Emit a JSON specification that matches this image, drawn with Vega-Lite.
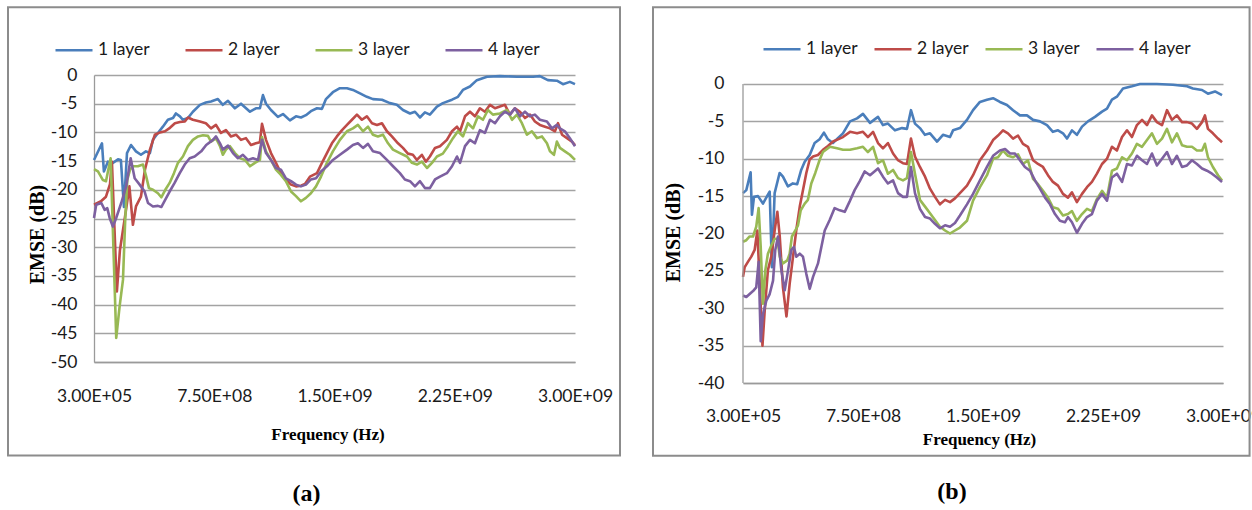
{
"$schema": "https://vega.github.io/schema/vega-lite/v6.json",
"padding": {"left": 7, "top": 6, "right": 0, "bottom": 0},
"background": "white",
"config": {
  "font": "Lato",
  "view": {"stroke": null},
  "axis": {"labelFont": "Lato", "labelFontSize": 17.5, "labelColor": "#1a1a1a", "titleFont": "Liberation Serif", "titleFontWeight": "bold", "titleFontSize": 17, "titleColor": "#000000", "ticks": false, "domainColor": "#9a9a9a", "gridColor": "#a3a3a3", "gridWidth": 1.3, "domainWidth": 1.3, "labelOverlap": false},
  "legend": {"labelFont": "Lato", "labelFontSize": 17.5, "labelColor": "#1a1a1a", "symbolType": "stroke", "symbolStrokeWidth": 3, "symbolSize": 1369, "labelOffset": 4, "padding": 0},
  "line": {"strokeWidth": 2.6, "strokeJoin": "round"},
  "title": {"font": "Liberation Serif", "fontSize": 24, "fontWeight": "bold", "color": "#000000"}
},
"spacing": 31,
"bounds": "full",
"align": "none",
"resolve": {"scale": {"x": "independent", "y": "independent", "color": "independent"}, "legend": {"color": "independent"}},
"datasets": {
"a": [
{"layer":"1 layer","MHz":0.3,"dB":-14.8},{"layer":"1 layer","MHz":50,"dB":-11.9},{"layer":"1 layer","MHz":62,"dB":-16.8},{"layer":"1 layer","MHz":87,"dB":-15.1},{"layer":"1 layer","MHz":118,"dB":-15.3},{"layer":"1 layer","MHz":150,"dB":-14.7},{"layer":"1 layer","MHz":168,"dB":-14.8},{"layer":"1 layer","MHz":187,"dB":-23},{"layer":"1 layer","MHz":206,"dB":-13.6},{"layer":"1 layer","MHz":231,"dB":-12.2},{"layer":"1 layer","MHz":262,"dB":-13.3},{"layer":"1 layer","MHz":293,"dB":-13.9},{"layer":"1 layer","MHz":324,"dB":-13.3},{"layer":"1 layer","MHz":349,"dB":-13.6},{"layer":"1 layer","MHz":368,"dB":-11.3},{"layer":"1 layer","MHz":399,"dB":-10.1},{"layer":"1 layer","MHz":430,"dB":-9},{"layer":"1 layer","MHz":461,"dB":-7.8},{"layer":"1 layer","MHz":493,"dB":-7.5},{"layer":"1 layer","MHz":511,"dB":-6.7},{"layer":"1 layer","MHz":536,"dB":-7.2},{"layer":"1 layer","MHz":555,"dB":-7.8},{"layer":"1 layer","MHz":586,"dB":-7.5},{"layer":"1 layer","MHz":617,"dB":-6.4},{"layer":"1 layer","MHz":661,"dB":-5.2},{"layer":"1 layer","MHz":698,"dB":-4.8},{"layer":"1 layer","MHz":730,"dB":-4.6},{"layer":"1 layer","MHz":773,"dB":-4.2},{"layer":"1 layer","MHz":804,"dB":-5.2},{"layer":"1 layer","MHz":836,"dB":-4.5},{"layer":"1 layer","MHz":879,"dB":-5.8},{"layer":"1 layer","MHz":917,"dB":-5},{"layer":"1 layer","MHz":973,"dB":-6.4},{"layer":"1 layer","MHz":1010,"dB":-5.8},{"layer":"1 layer","MHz":1035,"dB":-5.8},{"layer":"1 layer","MHz":1054,"dB":-3.5},{"layer":"1 layer","MHz":1073,"dB":-5},{"layer":"1 layer","MHz":1104,"dB":-6.1},{"layer":"1 layer","MHz":1147,"dB":-7.3},{"layer":"1 layer","MHz":1179,"dB":-6.8},{"layer":"1 layer","MHz":1222,"dB":-7.9},{"layer":"1 layer","MHz":1260,"dB":-7.2},{"layer":"1 layer","MHz":1291,"dB":-7.4},{"layer":"1 layer","MHz":1322,"dB":-7},{"layer":"1 layer","MHz":1353,"dB":-6.3},{"layer":"1 layer","MHz":1391,"dB":-5.8},{"layer":"1 layer","MHz":1422,"dB":-5.9},{"layer":"1 layer","MHz":1447,"dB":-4.2},{"layer":"1 layer","MHz":1490,"dB":-3},{"layer":"1 layer","MHz":1534,"dB":-2.3},{"layer":"1 layer","MHz":1578,"dB":-2.3},{"layer":"1 layer","MHz":1615,"dB":-2.6},{"layer":"1 layer","MHz":1659,"dB":-3.2},{"layer":"1 layer","MHz":1702,"dB":-3.8},{"layer":"1 layer","MHz":1740,"dB":-4.2},{"layer":"1 layer","MHz":1796,"dB":-4.3},{"layer":"1 layer","MHz":1846,"dB":-4.9},{"layer":"1 layer","MHz":1889,"dB":-5.2},{"layer":"1 layer","MHz":1927,"dB":-6.1},{"layer":"1 layer","MHz":1971,"dB":-6.7},{"layer":"1 layer","MHz":2002,"dB":-6.4},{"layer":"1 layer","MHz":2033,"dB":-7.4},{"layer":"1 layer","MHz":2064,"dB":-6.5},{"layer":"1 layer","MHz":2095,"dB":-6.9},{"layer":"1 layer","MHz":2139,"dB":-5.5},{"layer":"1 layer","MHz":2176,"dB":-4.9},{"layer":"1 layer","MHz":2233,"dB":-4.3},{"layer":"1 layer","MHz":2270,"dB":-3.8},{"layer":"1 layer","MHz":2301,"dB":-2.6},{"layer":"1 layer","MHz":2345,"dB":-2},{"layer":"1 layer","MHz":2388,"dB":-0.9},{"layer":"1 layer","MHz":2451,"dB":-0.3},{"layer":"1 layer","MHz":2532,"dB":-0.2},{"layer":"1 layer","MHz":2638,"dB":-0.3},{"layer":"1 layer","MHz":2738,"dB":-0.3},{"layer":"1 layer","MHz":2781,"dB":-0.2},{"layer":"1 layer","MHz":2831,"dB":-0.9},{"layer":"1 layer","MHz":2887,"dB":-1},{"layer":"1 layer","MHz":2925,"dB":-1.6},{"layer":"1 layer","MHz":2968,"dB":-1.2},{"layer":"1 layer","MHz":3000,"dB":-1.6},
{"layer":"2 layer","MHz":0.3,"dB":-22.6},{"layer":"2 layer","MHz":44,"dB":-22},{"layer":"2 layer","MHz":75,"dB":-21.2},{"layer":"2 layer","MHz":100,"dB":-19},{"layer":"2 layer","MHz":112,"dB":-15.1},{"layer":"2 layer","MHz":143,"dB":-37.7},{"layer":"2 layer","MHz":162,"dB":-30.5},{"layer":"2 layer","MHz":181,"dB":-27},{"layer":"2 layer","MHz":200,"dB":-23.5},{"layer":"2 layer","MHz":221,"dB":-19.4},{"layer":"2 layer","MHz":243,"dB":-26.1},{"layer":"2 layer","MHz":262,"dB":-22.9},{"layer":"2 layer","MHz":293,"dB":-21.2},{"layer":"2 layer","MHz":318,"dB":-16.5},{"layer":"2 layer","MHz":349,"dB":-13},{"layer":"2 layer","MHz":380,"dB":-10.4},{"layer":"2 layer","MHz":412,"dB":-10},{"layer":"2 layer","MHz":443,"dB":-9.8},{"layer":"2 layer","MHz":474,"dB":-9.2},{"layer":"2 layer","MHz":505,"dB":-8.4},{"layer":"2 layer","MHz":536,"dB":-8.2},{"layer":"2 layer","MHz":567,"dB":-8.1},{"layer":"2 layer","MHz":586,"dB":-7.4},{"layer":"2 layer","MHz":617,"dB":-7.8},{"layer":"2 layer","MHz":661,"dB":-8.1},{"layer":"2 layer","MHz":698,"dB":-8.4},{"layer":"2 layer","MHz":730,"dB":-9.3},{"layer":"2 layer","MHz":761,"dB":-8.7},{"layer":"2 layer","MHz":792,"dB":-10.1},{"layer":"2 layer","MHz":823,"dB":-9.6},{"layer":"2 layer","MHz":854,"dB":-10.7},{"layer":"2 layer","MHz":886,"dB":-10.4},{"layer":"2 layer","MHz":917,"dB":-11.3},{"layer":"2 layer","MHz":948,"dB":-11},{"layer":"2 layer","MHz":979,"dB":-12.2},{"layer":"2 layer","MHz":1010,"dB":-11.9},{"layer":"2 layer","MHz":1035,"dB":-11.7},{"layer":"2 layer","MHz":1048,"dB":-8.5},{"layer":"2 layer","MHz":1073,"dB":-11.3},{"layer":"2 layer","MHz":1104,"dB":-13.6},{"layer":"2 layer","MHz":1135,"dB":-15.3},{"layer":"2 layer","MHz":1166,"dB":-17.1},{"layer":"2 layer","MHz":1197,"dB":-18.2},{"layer":"2 layer","MHz":1229,"dB":-19.1},{"layer":"2 layer","MHz":1260,"dB":-19.4},{"layer":"2 layer","MHz":1291,"dB":-19.3},{"layer":"2 layer","MHz":1316,"dB":-19},{"layer":"2 layer","MHz":1347,"dB":-17.7},{"layer":"2 layer","MHz":1391,"dB":-17.1},{"layer":"2 layer","MHz":1422,"dB":-15.3},{"layer":"2 layer","MHz":1453,"dB":-13.6},{"layer":"2 layer","MHz":1484,"dB":-11.9},{"layer":"2 layer","MHz":1515,"dB":-10.7},{"layer":"2 layer","MHz":1547,"dB":-9.6},{"layer":"2 layer","MHz":1578,"dB":-8.7},{"layer":"2 layer","MHz":1609,"dB":-7.8},{"layer":"2 layer","MHz":1640,"dB":-6.9},{"layer":"2 layer","MHz":1671,"dB":-7.8},{"layer":"2 layer","MHz":1702,"dB":-7.2},{"layer":"2 layer","MHz":1734,"dB":-8.4},{"layer":"2 layer","MHz":1765,"dB":-8.7},{"layer":"2 layer","MHz":1796,"dB":-8.4},{"layer":"2 layer","MHz":1827,"dB":-9.8},{"layer":"2 layer","MHz":1858,"dB":-10.7},{"layer":"2 layer","MHz":1896,"dB":-11.9},{"layer":"2 layer","MHz":1927,"dB":-12.7},{"layer":"2 layer","MHz":1958,"dB":-13.7},{"layer":"2 layer","MHz":1989,"dB":-13.9},{"layer":"2 layer","MHz":2014,"dB":-14.8},{"layer":"2 layer","MHz":2045,"dB":-13.9},{"layer":"2 layer","MHz":2070,"dB":-15.1},{"layer":"2 layer","MHz":2095,"dB":-14.2},{"layer":"2 layer","MHz":2127,"dB":-12.7},{"layer":"2 layer","MHz":2158,"dB":-12.4},{"layer":"2 layer","MHz":2201,"dB":-11.3},{"layer":"2 layer","MHz":2233,"dB":-9.8},{"layer":"2 layer","MHz":2264,"dB":-9},{"layer":"2 layer","MHz":2283,"dB":-9.8},{"layer":"2 layer","MHz":2314,"dB":-7.2},{"layer":"2 layer","MHz":2345,"dB":-6.4},{"layer":"2 layer","MHz":2376,"dB":-7.2},{"layer":"2 layer","MHz":2407,"dB":-5.8},{"layer":"2 layer","MHz":2438,"dB":-6.4},{"layer":"2 layer","MHz":2470,"dB":-5.2},{"layer":"2 layer","MHz":2501,"dB":-5.8},{"layer":"2 layer","MHz":2532,"dB":-5.5},{"layer":"2 layer","MHz":2563,"dB":-5.2},{"layer":"2 layer","MHz":2594,"dB":-6.9},{"layer":"2 layer","MHz":2625,"dB":-5.8},{"layer":"2 layer","MHz":2657,"dB":-6.4},{"layer":"2 layer","MHz":2688,"dB":-7.5},{"layer":"2 layer","MHz":2719,"dB":-6.9},{"layer":"2 layer","MHz":2750,"dB":-8.1},{"layer":"2 layer","MHz":2781,"dB":-8.7},{"layer":"2 layer","MHz":2813,"dB":-9},{"layer":"2 layer","MHz":2844,"dB":-9.3},{"layer":"2 layer","MHz":2875,"dB":-9.8},{"layer":"2 layer","MHz":2894,"dB":-8.4},{"layer":"2 layer","MHz":2919,"dB":-10.4},{"layer":"2 layer","MHz":2950,"dB":-11},{"layer":"2 layer","MHz":2981,"dB":-11.6},{"layer":"2 layer","MHz":3000,"dB":-12.2},
{"layer":"3 layer","MHz":0.3,"dB":-16.4},{"layer":"3 layer","MHz":25,"dB":-16.8},{"layer":"3 layer","MHz":56,"dB":-18.3},{"layer":"3 layer","MHz":75,"dB":-18.5},{"layer":"3 layer","MHz":104,"dB":-14.5},{"layer":"3 layer","MHz":139,"dB":-45.8},{"layer":"3 layer","MHz":160,"dB":-40.3},{"layer":"3 layer","MHz":181,"dB":-35.7},{"layer":"3 layer","MHz":195,"dB":-25.2},{"layer":"3 layer","MHz":208,"dB":-18.3},{"layer":"3 layer","MHz":225,"dB":-16.5},{"layer":"3 layer","MHz":243,"dB":-15.9},{"layer":"3 layer","MHz":274,"dB":-15.9},{"layer":"3 layer","MHz":306,"dB":-15.6},{"layer":"3 layer","MHz":326,"dB":-17.7},{"layer":"3 layer","MHz":343,"dB":-19.7},{"layer":"3 layer","MHz":368,"dB":-20},{"layer":"3 layer","MHz":399,"dB":-20.6},{"layer":"3 layer","MHz":420,"dB":-21.3},{"layer":"3 layer","MHz":445,"dB":-20},{"layer":"3 layer","MHz":472,"dB":-18.8},{"layer":"3 layer","MHz":499,"dB":-17.1},{"layer":"3 layer","MHz":524,"dB":-15.3},{"layer":"3 layer","MHz":555,"dB":-14.2},{"layer":"3 layer","MHz":586,"dB":-12.4},{"layer":"3 layer","MHz":617,"dB":-11.3},{"layer":"3 layer","MHz":649,"dB":-10.7},{"layer":"3 layer","MHz":680,"dB":-10.5},{"layer":"3 layer","MHz":711,"dB":-10.6},{"layer":"3 layer","MHz":730,"dB":-11.6},{"layer":"3 layer","MHz":761,"dB":-11},{"layer":"3 layer","MHz":786,"dB":-12.4},{"layer":"3 layer","MHz":804,"dB":-13.9},{"layer":"3 layer","MHz":823,"dB":-13},{"layer":"3 layer","MHz":848,"dB":-12.4},{"layer":"3 layer","MHz":879,"dB":-13.6},{"layer":"3 layer","MHz":911,"dB":-14.5},{"layer":"3 layer","MHz":942,"dB":-14.8},{"layer":"3 layer","MHz":973,"dB":-15.9},{"layer":"3 layer","MHz":1004,"dB":-15.3},{"layer":"3 layer","MHz":1035,"dB":-14.8},{"layer":"3 layer","MHz":1048,"dB":-10.8},{"layer":"3 layer","MHz":1073,"dB":-13.3},{"layer":"3 layer","MHz":1104,"dB":-14.8},{"layer":"3 layer","MHz":1135,"dB":-16.5},{"layer":"3 layer","MHz":1166,"dB":-17.4},{"layer":"3 layer","MHz":1197,"dB":-18.5},{"layer":"3 layer","MHz":1229,"dB":-20.3},{"layer":"3 layer","MHz":1260,"dB":-21.1},{"layer":"3 layer","MHz":1291,"dB":-22},{"layer":"3 layer","MHz":1322,"dB":-21.4},{"layer":"3 layer","MHz":1353,"dB":-20.6},{"layer":"3 layer","MHz":1385,"dB":-19.4},{"layer":"3 layer","MHz":1416,"dB":-17.7},{"layer":"3 layer","MHz":1453,"dB":-15.3},{"layer":"3 layer","MHz":1490,"dB":-13.3},{"layer":"3 layer","MHz":1534,"dB":-11.3},{"layer":"3 layer","MHz":1578,"dB":-9.8},{"layer":"3 layer","MHz":1615,"dB":-9.3},{"layer":"3 layer","MHz":1646,"dB":-8.7},{"layer":"3 layer","MHz":1678,"dB":-9.8},{"layer":"3 layer","MHz":1709,"dB":-9},{"layer":"3 layer","MHz":1740,"dB":-10.4},{"layer":"3 layer","MHz":1771,"dB":-10.7},{"layer":"3 layer","MHz":1802,"dB":-10.4},{"layer":"3 layer","MHz":1834,"dB":-11.9},{"layer":"3 layer","MHz":1865,"dB":-13},{"layer":"3 layer","MHz":1908,"dB":-13.6},{"layer":"3 layer","MHz":1952,"dB":-14.2},{"layer":"3 layer","MHz":1983,"dB":-15.3},{"layer":"3 layer","MHz":2014,"dB":-15.6},{"layer":"3 layer","MHz":2045,"dB":-15.1},{"layer":"3 layer","MHz":2077,"dB":-16.2},{"layer":"3 layer","MHz":2108,"dB":-15.3},{"layer":"3 layer","MHz":2139,"dB":-14.2},{"layer":"3 layer","MHz":2176,"dB":-13.7},{"layer":"3 layer","MHz":2208,"dB":-12.4},{"layer":"3 layer","MHz":2239,"dB":-11},{"layer":"3 layer","MHz":2270,"dB":-9.8},{"layer":"3 layer","MHz":2301,"dB":-10.7},{"layer":"3 layer","MHz":2332,"dB":-8.4},{"layer":"3 layer","MHz":2364,"dB":-9.3},{"layer":"3 layer","MHz":2395,"dB":-7.2},{"layer":"3 layer","MHz":2426,"dB":-7.8},{"layer":"3 layer","MHz":2457,"dB":-6.1},{"layer":"3 layer","MHz":2488,"dB":-6.9},{"layer":"3 layer","MHz":2532,"dB":-6.7},{"layer":"3 layer","MHz":2576,"dB":-6.1},{"layer":"3 layer","MHz":2607,"dB":-7.8},{"layer":"3 layer","MHz":2638,"dB":-6.9},{"layer":"3 layer","MHz":2669,"dB":-8.4},{"layer":"3 layer","MHz":2700,"dB":-10.4},{"layer":"3 layer","MHz":2731,"dB":-9.8},{"layer":"3 layer","MHz":2763,"dB":-11},{"layer":"3 layer","MHz":2794,"dB":-10.7},{"layer":"3 layer","MHz":2825,"dB":-11.9},{"layer":"3 layer","MHz":2844,"dB":-13.3},{"layer":"3 layer","MHz":2869,"dB":-13.9},{"layer":"3 layer","MHz":2887,"dB":-11.6},{"layer":"3 layer","MHz":2906,"dB":-12.7},{"layer":"3 layer","MHz":2937,"dB":-13.3},{"layer":"3 layer","MHz":2968,"dB":-13.9},{"layer":"3 layer","MHz":3000,"dB":-14.8},
{"layer":"4 layer","MHz":0.3,"dB":-24.9},{"layer":"4 layer","MHz":14,"dB":-22.6},{"layer":"4 layer","MHz":46,"dB":-22.3},{"layer":"4 layer","MHz":67,"dB":-23.5},{"layer":"4 layer","MHz":83,"dB":-23.2},{"layer":"4 layer","MHz":98,"dB":-24.9},{"layer":"4 layer","MHz":118,"dB":-26.4},{"layer":"4 layer","MHz":139,"dB":-24.9},{"layer":"4 layer","MHz":170,"dB":-22.3},{"layer":"4 layer","MHz":201,"dB":-19.4},{"layer":"4 layer","MHz":229,"dB":-14.5},{"layer":"4 layer","MHz":254,"dB":-18},{"layer":"4 layer","MHz":285,"dB":-19.1},{"layer":"4 layer","MHz":316,"dB":-20.3},{"layer":"4 layer","MHz":337,"dB":-22.3},{"layer":"4 layer","MHz":368,"dB":-22.9},{"layer":"4 layer","MHz":399,"dB":-22.8},{"layer":"4 layer","MHz":420,"dB":-23},{"layer":"4 layer","MHz":445,"dB":-21.7},{"layer":"4 layer","MHz":472,"dB":-20.3},{"layer":"4 layer","MHz":503,"dB":-18.8},{"layer":"4 layer","MHz":535,"dB":-17.1},{"layer":"4 layer","MHz":566,"dB":-15.6},{"layer":"4 layer","MHz":597,"dB":-14.5},{"layer":"4 layer","MHz":628,"dB":-14.2},{"layer":"4 layer","MHz":669,"dB":-13.3},{"layer":"4 layer","MHz":700,"dB":-12.2},{"layer":"4 layer","MHz":742,"dB":-11.3},{"layer":"4 layer","MHz":761,"dB":-10.7},{"layer":"4 layer","MHz":786,"dB":-11.9},{"layer":"4 layer","MHz":804,"dB":-13},{"layer":"4 layer","MHz":836,"dB":-12.3},{"layer":"4 layer","MHz":867,"dB":-13.6},{"layer":"4 layer","MHz":898,"dB":-14.5},{"layer":"4 layer","MHz":929,"dB":-13.9},{"layer":"4 layer","MHz":960,"dB":-14.8},{"layer":"4 layer","MHz":992,"dB":-14.5},{"layer":"4 layer","MHz":1023,"dB":-14.8},{"layer":"4 layer","MHz":1048,"dB":-11.3},{"layer":"4 layer","MHz":1073,"dB":-13.6},{"layer":"4 layer","MHz":1104,"dB":-14.8},{"layer":"4 layer","MHz":1135,"dB":-16.2},{"layer":"4 layer","MHz":1166,"dB":-16.5},{"layer":"4 layer","MHz":1197,"dB":-18},{"layer":"4 layer","MHz":1229,"dB":-18.5},{"layer":"4 layer","MHz":1260,"dB":-19.1},{"layer":"4 layer","MHz":1291,"dB":-19.4},{"layer":"4 layer","MHz":1322,"dB":-19.1},{"layer":"4 layer","MHz":1353,"dB":-18.2},{"layer":"4 layer","MHz":1385,"dB":-18},{"layer":"4 layer","MHz":1416,"dB":-16.8},{"layer":"4 layer","MHz":1453,"dB":-15.9},{"layer":"4 layer","MHz":1490,"dB":-14.8},{"layer":"4 layer","MHz":1534,"dB":-13.9},{"layer":"4 layer","MHz":1578,"dB":-13},{"layer":"4 layer","MHz":1615,"dB":-12.2},{"layer":"4 layer","MHz":1646,"dB":-11.9},{"layer":"4 layer","MHz":1678,"dB":-12.7},{"layer":"4 layer","MHz":1709,"dB":-12},{"layer":"4 layer","MHz":1740,"dB":-13.3},{"layer":"4 layer","MHz":1784,"dB":-13.6},{"layer":"4 layer","MHz":1827,"dB":-14.8},{"layer":"4 layer","MHz":1865,"dB":-15.9},{"layer":"4 layer","MHz":1908,"dB":-17.1},{"layer":"4 layer","MHz":1939,"dB":-18.2},{"layer":"4 layer","MHz":1971,"dB":-18.5},{"layer":"4 layer","MHz":2002,"dB":-19.4},{"layer":"4 layer","MHz":2033,"dB":-18.5},{"layer":"4 layer","MHz":2064,"dB":-19.7},{"layer":"4 layer","MHz":2095,"dB":-19.7},{"layer":"4 layer","MHz":2127,"dB":-18.2},{"layer":"4 layer","MHz":2158,"dB":-17.7},{"layer":"4 layer","MHz":2201,"dB":-17.1},{"layer":"4 layer","MHz":2233,"dB":-15.9},{"layer":"4 layer","MHz":2264,"dB":-14.2},{"layer":"4 layer","MHz":2283,"dB":-15.3},{"layer":"4 layer","MHz":2314,"dB":-12.4},{"layer":"4 layer","MHz":2345,"dB":-11.3},{"layer":"4 layer","MHz":2376,"dB":-11.9},{"layer":"4 layer","MHz":2407,"dB":-9.6},{"layer":"4 layer","MHz":2438,"dB":-10.1},{"layer":"4 layer","MHz":2470,"dB":-7.8},{"layer":"4 layer","MHz":2501,"dB":-8.4},{"layer":"4 layer","MHz":2532,"dB":-7.2},{"layer":"4 layer","MHz":2563,"dB":-6.4},{"layer":"4 layer","MHz":2594,"dB":-6.9},{"layer":"4 layer","MHz":2625,"dB":-5.8},{"layer":"4 layer","MHz":2657,"dB":-7.2},{"layer":"4 layer","MHz":2688,"dB":-6.4},{"layer":"4 layer","MHz":2719,"dB":-7.2},{"layer":"4 layer","MHz":2750,"dB":-6.9},{"layer":"4 layer","MHz":2781,"dB":-7.8},{"layer":"4 layer","MHz":2825,"dB":-8.1},{"layer":"4 layer","MHz":2856,"dB":-9.3},{"layer":"4 layer","MHz":2887,"dB":-8.7},{"layer":"4 layer","MHz":2906,"dB":-9.3},{"layer":"4 layer","MHz":2937,"dB":-9.8},{"layer":"4 layer","MHz":2968,"dB":-11},{"layer":"4 layer","MHz":3000,"dB":-12.4}
],
"b": [
{"layer":"1 layer","MHz":0.3,"dB":-14.6},{"layer":"1 layer","MHz":21,"dB":-14.2},{"layer":"1 layer","MHz":48,"dB":-11.8},{"layer":"1 layer","MHz":56,"dB":-17.5},{"layer":"1 layer","MHz":69,"dB":-15.1},{"layer":"1 layer","MHz":94,"dB":-15},{"layer":"1 layer","MHz":125,"dB":-16},{"layer":"1 layer","MHz":156,"dB":-14.8},{"layer":"1 layer","MHz":167,"dB":-14.4},{"layer":"1 layer","MHz":181,"dB":-24.5},{"layer":"1 layer","MHz":198,"dB":-14.6},{"layer":"1 layer","MHz":229,"dB":-11.9},{"layer":"1 layer","MHz":250,"dB":-12.4},{"layer":"1 layer","MHz":281,"dB":-13.7},{"layer":"1 layer","MHz":312,"dB":-13.3},{"layer":"1 layer","MHz":339,"dB":-13.4},{"layer":"1 layer","MHz":364,"dB":-11.5},{"layer":"1 layer","MHz":386,"dB":-10.4},{"layer":"1 layer","MHz":417,"dB":-9.5},{"layer":"1 layer","MHz":448,"dB":-7.9},{"layer":"1 layer","MHz":479,"dB":-7.4},{"layer":"1 layer","MHz":506,"dB":-6.5},{"layer":"1 layer","MHz":531,"dB":-7.4},{"layer":"1 layer","MHz":562,"dB":-7.9},{"layer":"1 layer","MHz":625,"dB":-6.6},{"layer":"1 layer","MHz":669,"dB":-5},{"layer":"1 layer","MHz":713,"dB":-4.6},{"layer":"1 layer","MHz":750,"dB":-4},{"layer":"1 layer","MHz":794,"dB":-5.2},{"layer":"1 layer","MHz":844,"dB":-4.4},{"layer":"1 layer","MHz":875,"dB":-5.5},{"layer":"1 layer","MHz":906,"dB":-5.3},{"layer":"1 layer","MHz":950,"dB":-6.2},{"layer":"1 layer","MHz":994,"dB":-5.9},{"layer":"1 layer","MHz":1025,"dB":-6},{"layer":"1 layer","MHz":1050,"dB":-3.5},{"layer":"1 layer","MHz":1075,"dB":-5.3},{"layer":"1 layer","MHz":1106,"dB":-5.9},{"layer":"1 layer","MHz":1137,"dB":-6.8},{"layer":"1 layer","MHz":1169,"dB":-6.6},{"layer":"1 layer","MHz":1213,"dB":-7.7},{"layer":"1 layer","MHz":1250,"dB":-6.8},{"layer":"1 layer","MHz":1294,"dB":-7.1},{"layer":"1 layer","MHz":1313,"dB":-6.2},{"layer":"1 layer","MHz":1356,"dB":-5.9},{"layer":"1 layer","MHz":1400,"dB":-4.8},{"layer":"1 layer","MHz":1438,"dB":-3.5},{"layer":"1 layer","MHz":1481,"dB":-2.4},{"layer":"1 layer","MHz":1525,"dB":-2.1},{"layer":"1 layer","MHz":1563,"dB":-1.9},{"layer":"1 layer","MHz":1606,"dB":-2.4},{"layer":"1 layer","MHz":1650,"dB":-2.8},{"layer":"1 layer","MHz":1688,"dB":-3.5},{"layer":"1 layer","MHz":1731,"dB":-4.2},{"layer":"1 layer","MHz":1775,"dB":-4.2},{"layer":"1 layer","MHz":1813,"dB":-4.8},{"layer":"1 layer","MHz":1856,"dB":-5},{"layer":"1 layer","MHz":1900,"dB":-5.5},{"layer":"1 layer","MHz":1937,"dB":-6.4},{"layer":"1 layer","MHz":1969,"dB":-6.2},{"layer":"1 layer","MHz":2000,"dB":-6.6},{"layer":"1 layer","MHz":2025,"dB":-7.3},{"layer":"1 layer","MHz":2056,"dB":-6.2},{"layer":"1 layer","MHz":2087,"dB":-6.8},{"layer":"1 layer","MHz":2119,"dB":-5.7},{"layer":"1 layer","MHz":2156,"dB":-5},{"layer":"1 layer","MHz":2200,"dB":-4.4},{"layer":"1 layer","MHz":2244,"dB":-3.7},{"layer":"1 layer","MHz":2275,"dB":-3.3},{"layer":"1 layer","MHz":2306,"dB":-2.1},{"layer":"1 layer","MHz":2337,"dB":-1.7},{"layer":"1 layer","MHz":2375,"dB":-0.6},{"layer":"1 layer","MHz":2431,"dB":-0.3},{"layer":"1 layer","MHz":2481,"dB":0},{"layer":"1 layer","MHz":2587,"dB":0},{"layer":"1 layer","MHz":2687,"dB":-0.1},{"layer":"1 layer","MHz":2775,"dB":-0.3},{"layer":"1 layer","MHz":2812,"dB":-0.6},{"layer":"1 layer","MHz":2869,"dB":-0.8},{"layer":"1 layer","MHz":2906,"dB":-1.3},{"layer":"1 layer","MHz":2950,"dB":-1},{"layer":"1 layer","MHz":2994,"dB":-1.5},
{"layer":"2 layer","MHz":0.3,"dB":-25.8},{"layer":"2 layer","MHz":11,"dB":-24.5},{"layer":"2 layer","MHz":31,"dB":-23.8},{"layer":"2 layer","MHz":52,"dB":-23.1},{"layer":"2 layer","MHz":73,"dB":-22.2},{"layer":"2 layer","MHz":90,"dB":-19.6},{"layer":"2 layer","MHz":122,"dB":-35},{"layer":"2 layer","MHz":136,"dB":-30.3},{"layer":"2 layer","MHz":156,"dB":-24.9},{"layer":"2 layer","MHz":177,"dB":-23.1},{"layer":"2 layer","MHz":198,"dB":-19.6},{"layer":"2 layer","MHz":215,"dB":-17.1},{"layer":"2 layer","MHz":230,"dB":-20.4},{"layer":"2 layer","MHz":250,"dB":-27.2},{"layer":"2 layer","MHz":272,"dB":-31.1},{"layer":"2 layer","MHz":292,"dB":-26.7},{"layer":"2 layer","MHz":313,"dB":-23.1},{"layer":"2 layer","MHz":333,"dB":-19.6},{"layer":"2 layer","MHz":355,"dB":-16.4},{"layer":"2 layer","MHz":375,"dB":-14.2},{"layer":"2 layer","MHz":396,"dB":-11.9},{"layer":"2 layer","MHz":417,"dB":-10.1},{"layer":"2 layer","MHz":438,"dB":-9.7},{"layer":"2 layer","MHz":469,"dB":-9.5},{"layer":"2 layer","MHz":500,"dB":-8.8},{"layer":"2 layer","MHz":531,"dB":-8.3},{"layer":"2 layer","MHz":563,"dB":-7.7},{"layer":"2 layer","MHz":594,"dB":-7.4},{"layer":"2 layer","MHz":625,"dB":-7.1},{"layer":"2 layer","MHz":669,"dB":-6.4},{"layer":"2 layer","MHz":713,"dB":-6.6},{"layer":"2 layer","MHz":750,"dB":-6.4},{"layer":"2 layer","MHz":781,"dB":-7.1},{"layer":"2 layer","MHz":813,"dB":-6.4},{"layer":"2 layer","MHz":844,"dB":-7.9},{"layer":"2 layer","MHz":875,"dB":-8.6},{"layer":"2 layer","MHz":906,"dB":-7.9},{"layer":"2 layer","MHz":938,"dB":-9.3},{"layer":"2 layer","MHz":969,"dB":-10.2},{"layer":"2 layer","MHz":1000,"dB":-10.6},{"layer":"2 layer","MHz":1025,"dB":-10.7},{"layer":"2 layer","MHz":1050,"dB":-7.3},{"layer":"2 layer","MHz":1075,"dB":-9.7},{"layer":"2 layer","MHz":1106,"dB":-11.1},{"layer":"2 layer","MHz":1138,"dB":-12.4},{"layer":"2 layer","MHz":1169,"dB":-14},{"layer":"2 layer","MHz":1200,"dB":-15.1},{"layer":"2 layer","MHz":1231,"dB":-16.1},{"layer":"2 layer","MHz":1263,"dB":-15.5},{"layer":"2 layer","MHz":1294,"dB":-15.8},{"layer":"2 layer","MHz":1325,"dB":-15.3},{"layer":"2 layer","MHz":1356,"dB":-14.6},{"layer":"2 layer","MHz":1400,"dB":-13.6},{"layer":"2 layer","MHz":1438,"dB":-12.2},{"layer":"2 layer","MHz":1481,"dB":-10.2},{"layer":"2 layer","MHz":1525,"dB":-8.9},{"layer":"2 layer","MHz":1563,"dB":-7.5},{"layer":"2 layer","MHz":1594,"dB":-6.9},{"layer":"2 layer","MHz":1625,"dB":-6.2},{"layer":"2 layer","MHz":1656,"dB":-6.6},{"layer":"2 layer","MHz":1688,"dB":-7.3},{"layer":"2 layer","MHz":1719,"dB":-6.9},{"layer":"2 layer","MHz":1750,"dB":-8},{"layer":"2 layer","MHz":1781,"dB":-8.4},{"layer":"2 layer","MHz":1813,"dB":-10.2},{"layer":"2 layer","MHz":1844,"dB":-10.7},{"layer":"2 layer","MHz":1875,"dB":-11.1},{"layer":"2 layer","MHz":1906,"dB":-12.2},{"layer":"2 layer","MHz":1937,"dB":-13.1},{"layer":"2 layer","MHz":1969,"dB":-13.6},{"layer":"2 layer","MHz":2000,"dB":-14.7},{"layer":"2 layer","MHz":2031,"dB":-15.2},{"layer":"2 layer","MHz":2056,"dB":-14.5},{"layer":"2 layer","MHz":2087,"dB":-15.8},{"layer":"2 layer","MHz":2119,"dB":-14.7},{"layer":"2 layer","MHz":2150,"dB":-13.8},{"layer":"2 layer","MHz":2181,"dB":-13.1},{"layer":"2 layer","MHz":2212,"dB":-12},{"layer":"2 layer","MHz":2244,"dB":-10.7},{"layer":"2 layer","MHz":2275,"dB":-10},{"layer":"2 layer","MHz":2306,"dB":-8.4},{"layer":"2 layer","MHz":2337,"dB":-8.9},{"layer":"2 layer","MHz":2369,"dB":-7.1},{"layer":"2 layer","MHz":2400,"dB":-6.2},{"layer":"2 layer","MHz":2431,"dB":-7.1},{"layer":"2 layer","MHz":2462,"dB":-5.5},{"layer":"2 layer","MHz":2494,"dB":-4.8},{"layer":"2 layer","MHz":2525,"dB":-5.5},{"layer":"2 layer","MHz":2556,"dB":-4.2},{"layer":"2 layer","MHz":2587,"dB":-5.1},{"layer":"2 layer","MHz":2619,"dB":-5.5},{"layer":"2 layer","MHz":2650,"dB":-3.5},{"layer":"2 layer","MHz":2681,"dB":-4.8},{"layer":"2 layer","MHz":2712,"dB":-4.2},{"layer":"2 layer","MHz":2744,"dB":-5.1},{"layer":"2 layer","MHz":2775,"dB":-5.1},{"layer":"2 layer","MHz":2806,"dB":-5.3},{"layer":"2 layer","MHz":2837,"dB":-6},{"layer":"2 layer","MHz":2869,"dB":-5.1},{"layer":"2 layer","MHz":2887,"dB":-4.2},{"layer":"2 layer","MHz":2906,"dB":-6},{"layer":"2 layer","MHz":2937,"dB":-6.6},{"layer":"2 layer","MHz":2969,"dB":-7.3},{"layer":"2 layer","MHz":2994,"dB":-7.8},
{"layer":"3 layer","MHz":0.3,"dB":-21.1},{"layer":"3 layer","MHz":21,"dB":-20.9},{"layer":"3 layer","MHz":42,"dB":-20.4},{"layer":"3 layer","MHz":63,"dB":-20.4},{"layer":"3 layer","MHz":83,"dB":-19.1},{"layer":"3 layer","MHz":98,"dB":-16.6},{"layer":"3 layer","MHz":111,"dB":-21.8},{"layer":"3 layer","MHz":125,"dB":-29.4},{"layer":"3 layer","MHz":140,"dB":-24.9},{"layer":"3 layer","MHz":156,"dB":-22.7},{"layer":"3 layer","MHz":177,"dB":-21.6},{"layer":"3 layer","MHz":198,"dB":-20.7},{"layer":"3 layer","MHz":215,"dB":-20.7},{"layer":"3 layer","MHz":230,"dB":-23.1},{"layer":"3 layer","MHz":250,"dB":-24},{"layer":"3 layer","MHz":277,"dB":-23.6},{"layer":"3 layer","MHz":292,"dB":-22.7},{"layer":"3 layer","MHz":306,"dB":-20.4},{"layer":"3 layer","MHz":327,"dB":-19.6},{"layer":"3 layer","MHz":344,"dB":-18.9},{"layer":"3 layer","MHz":361,"dB":-16.9},{"layer":"3 layer","MHz":386,"dB":-16},{"layer":"3 layer","MHz":406,"dB":-15.5},{"layer":"3 layer","MHz":427,"dB":-13.3},{"layer":"3 layer","MHz":452,"dB":-11.9},{"layer":"3 layer","MHz":480,"dB":-10.1},{"layer":"3 layer","MHz":500,"dB":-9.1},{"layer":"3 layer","MHz":544,"dB":-8.4},{"layer":"3 layer","MHz":588,"dB":-8.6},{"layer":"3 layer","MHz":625,"dB":-8.8},{"layer":"3 layer","MHz":669,"dB":-8.8},{"layer":"3 layer","MHz":713,"dB":-8.6},{"layer":"3 layer","MHz":750,"dB":-8.4},{"layer":"3 layer","MHz":781,"dB":-9.1},{"layer":"3 layer","MHz":813,"dB":-8.4},{"layer":"3 layer","MHz":844,"dB":-10.6},{"layer":"3 layer","MHz":875,"dB":-10.2},{"layer":"3 layer","MHz":906,"dB":-12},{"layer":"3 layer","MHz":938,"dB":-11.5},{"layer":"3 layer","MHz":969,"dB":-12.6},{"layer":"3 layer","MHz":1000,"dB":-12.9},{"layer":"3 layer","MHz":1025,"dB":-12.6},{"layer":"3 layer","MHz":1050,"dB":-9.1},{"layer":"3 layer","MHz":1075,"dB":-12},{"layer":"3 layer","MHz":1106,"dB":-15.5},{"layer":"3 layer","MHz":1138,"dB":-16.4},{"layer":"3 layer","MHz":1169,"dB":-17.3},{"layer":"3 layer","MHz":1200,"dB":-18.2},{"layer":"3 layer","MHz":1231,"dB":-19.1},{"layer":"3 layer","MHz":1263,"dB":-19.6},{"layer":"3 layer","MHz":1294,"dB":-20},{"layer":"3 layer","MHz":1325,"dB":-19.6},{"layer":"3 layer","MHz":1356,"dB":-19.2},{"layer":"3 layer","MHz":1400,"dB":-18.3},{"layer":"3 layer","MHz":1438,"dB":-15.6},{"layer":"3 layer","MHz":1481,"dB":-13.8},{"layer":"3 layer","MHz":1525,"dB":-12.2},{"layer":"3 layer","MHz":1563,"dB":-10},{"layer":"3 layer","MHz":1594,"dB":-9.8},{"layer":"3 layer","MHz":1625,"dB":-8.9},{"layer":"3 layer","MHz":1656,"dB":-9.6},{"layer":"3 layer","MHz":1688,"dB":-9.8},{"layer":"3 layer","MHz":1719,"dB":-9.4},{"layer":"3 layer","MHz":1750,"dB":-10.7},{"layer":"3 layer","MHz":1781,"dB":-10.2},{"layer":"3 layer","MHz":1813,"dB":-12.7},{"layer":"3 layer","MHz":1844,"dB":-13.4},{"layer":"3 layer","MHz":1875,"dB":-14.3},{"layer":"3 layer","MHz":1906,"dB":-15.2},{"layer":"3 layer","MHz":1937,"dB":-16.5},{"layer":"3 layer","MHz":1969,"dB":-16.7},{"layer":"3 layer","MHz":2000,"dB":-17.6},{"layer":"3 layer","MHz":2031,"dB":-17.4},{"layer":"3 layer","MHz":2056,"dB":-17},{"layer":"3 layer","MHz":2087,"dB":-18.3},{"layer":"3 layer","MHz":2119,"dB":-17.4},{"layer":"3 layer","MHz":2150,"dB":-16.7},{"layer":"3 layer","MHz":2181,"dB":-17},{"layer":"3 layer","MHz":2212,"dB":-15.4},{"layer":"3 layer","MHz":2244,"dB":-14.3},{"layer":"3 layer","MHz":2275,"dB":-15.2},{"layer":"3 layer","MHz":2306,"dB":-11.6},{"layer":"3 layer","MHz":2337,"dB":-11.3},{"layer":"3 layer","MHz":2369,"dB":-9.8},{"layer":"3 layer","MHz":2400,"dB":-10.2},{"layer":"3 layer","MHz":2431,"dB":-9.3},{"layer":"3 layer","MHz":2462,"dB":-8},{"layer":"3 layer","MHz":2494,"dB":-8.4},{"layer":"3 layer","MHz":2525,"dB":-7.5},{"layer":"3 layer","MHz":2556,"dB":-6.6},{"layer":"3 layer","MHz":2587,"dB":-8},{"layer":"3 layer","MHz":2619,"dB":-7.3},{"layer":"3 layer","MHz":2650,"dB":-6},{"layer":"3 layer","MHz":2681,"dB":-7.8},{"layer":"3 layer","MHz":2712,"dB":-6.6},{"layer":"3 layer","MHz":2744,"dB":-8.2},{"layer":"3 layer","MHz":2775,"dB":-8.4},{"layer":"3 layer","MHz":2806,"dB":-8.4},{"layer":"3 layer","MHz":2837,"dB":-8.9},{"layer":"3 layer","MHz":2869,"dB":-8.9},{"layer":"3 layer","MHz":2887,"dB":-8},{"layer":"3 layer","MHz":2906,"dB":-9.8},{"layer":"3 layer","MHz":2937,"dB":-11.1},{"layer":"3 layer","MHz":2969,"dB":-12.2},{"layer":"3 layer","MHz":2994,"dB":-12.9},
{"layer":"4 layer","MHz":0.3,"dB":-28.3},{"layer":"4 layer","MHz":21,"dB":-28.5},{"layer":"4 layer","MHz":42,"dB":-28.1},{"layer":"4 layer","MHz":63,"dB":-27.7},{"layer":"4 layer","MHz":83,"dB":-27.2},{"layer":"4 layer","MHz":98,"dB":-23.8},{"layer":"4 layer","MHz":111,"dB":-34.4},{"layer":"4 layer","MHz":125,"dB":-30.8},{"layer":"4 layer","MHz":146,"dB":-29},{"layer":"4 layer","MHz":167,"dB":-28.1},{"layer":"4 layer","MHz":188,"dB":-26.3},{"layer":"4 layer","MHz":202,"dB":-22.2},{"layer":"4 layer","MHz":219,"dB":-20.4},{"layer":"4 layer","MHz":240,"dB":-24.9},{"layer":"4 layer","MHz":261,"dB":-27.6},{"layer":"4 layer","MHz":282,"dB":-24.9},{"layer":"4 layer","MHz":302,"dB":-22.2},{"layer":"4 layer","MHz":319,"dB":-21.8},{"layer":"4 layer","MHz":333,"dB":-23.1},{"layer":"4 layer","MHz":355,"dB":-22.7},{"layer":"4 layer","MHz":375,"dB":-23.1},{"layer":"4 layer","MHz":396,"dB":-25.4},{"layer":"4 layer","MHz":417,"dB":-27.4},{"layer":"4 layer","MHz":438,"dB":-25.8},{"layer":"4 layer","MHz":469,"dB":-24},{"layer":"4 layer","MHz":490,"dB":-21.8},{"layer":"4 layer","MHz":511,"dB":-19.6},{"layer":"4 layer","MHz":542,"dB":-18.2},{"layer":"4 layer","MHz":573,"dB":-16.6},{"layer":"4 layer","MHz":605,"dB":-16.9},{"layer":"4 layer","MHz":636,"dB":-17.1},{"layer":"4 layer","MHz":667,"dB":-15.7},{"layer":"4 layer","MHz":698,"dB":-14.2},{"layer":"4 layer","MHz":730,"dB":-13},{"layer":"4 layer","MHz":761,"dB":-11.7},{"layer":"4 layer","MHz":794,"dB":-12.2},{"layer":"4 layer","MHz":844,"dB":-11.3},{"layer":"4 layer","MHz":875,"dB":-12.4},{"layer":"4 layer","MHz":906,"dB":-13.3},{"layer":"4 layer","MHz":938,"dB":-12.9},{"layer":"4 layer","MHz":969,"dB":-14.6},{"layer":"4 layer","MHz":1000,"dB":-15.1},{"layer":"4 layer","MHz":1025,"dB":-15.1},{"layer":"4 layer","MHz":1050,"dB":-11.1},{"layer":"4 layer","MHz":1075,"dB":-14.6},{"layer":"4 layer","MHz":1106,"dB":-16.7},{"layer":"4 layer","MHz":1138,"dB":-17.8},{"layer":"4 layer","MHz":1169,"dB":-18},{"layer":"4 layer","MHz":1200,"dB":-18.7},{"layer":"4 layer","MHz":1231,"dB":-19.3},{"layer":"4 layer","MHz":1263,"dB":-18.9},{"layer":"4 layer","MHz":1294,"dB":-19.1},{"layer":"4 layer","MHz":1325,"dB":-18.6},{"layer":"4 layer","MHz":1356,"dB":-17.6},{"layer":"4 layer","MHz":1400,"dB":-16.1},{"layer":"4 layer","MHz":1438,"dB":-14.7},{"layer":"4 layer","MHz":1481,"dB":-12.9},{"layer":"4 layer","MHz":1525,"dB":-11.1},{"layer":"4 layer","MHz":1563,"dB":-9.6},{"layer":"4 layer","MHz":1606,"dB":-8.9},{"layer":"4 layer","MHz":1638,"dB":-8.7},{"layer":"4 layer","MHz":1669,"dB":-9.3},{"layer":"4 layer","MHz":1700,"dB":-9.3},{"layer":"4 layer","MHz":1731,"dB":-10.2},{"layer":"4 layer","MHz":1762,"dB":-11.1},{"layer":"4 layer","MHz":1794,"dB":-11.6},{"layer":"4 layer","MHz":1825,"dB":-12.9},{"layer":"4 layer","MHz":1856,"dB":-14},{"layer":"4 layer","MHz":1888,"dB":-15.2},{"layer":"4 layer","MHz":1919,"dB":-16.1},{"layer":"4 layer","MHz":1950,"dB":-17.4},{"layer":"4 layer","MHz":1981,"dB":-18.3},{"layer":"4 layer","MHz":2012,"dB":-18.5},{"layer":"4 layer","MHz":2031,"dB":-17.8},{"layer":"4 layer","MHz":2056,"dB":-18.5},{"layer":"4 layer","MHz":2087,"dB":-19.9},{"layer":"4 layer","MHz":2119,"dB":-18.7},{"layer":"4 layer","MHz":2150,"dB":-17.8},{"layer":"4 layer","MHz":2181,"dB":-17.4},{"layer":"4 layer","MHz":2212,"dB":-15.6},{"layer":"4 layer","MHz":2244,"dB":-14.7},{"layer":"4 layer","MHz":2275,"dB":-15.6},{"layer":"4 layer","MHz":2306,"dB":-12.5},{"layer":"4 layer","MHz":2337,"dB":-12},{"layer":"4 layer","MHz":2369,"dB":-13.1},{"layer":"4 layer","MHz":2400,"dB":-10.7},{"layer":"4 layer","MHz":2431,"dB":-10.9},{"layer":"4 layer","MHz":2462,"dB":-9.6},{"layer":"4 layer","MHz":2494,"dB":-10.2},{"layer":"4 layer","MHz":2525,"dB":-10.7},{"layer":"4 layer","MHz":2556,"dB":-9.3},{"layer":"4 layer","MHz":2587,"dB":-10.9},{"layer":"4 layer","MHz":2619,"dB":-10},{"layer":"4 layer","MHz":2650,"dB":-9.1},{"layer":"4 layer","MHz":2681,"dB":-10.7},{"layer":"4 layer","MHz":2712,"dB":-9.6},{"layer":"4 layer","MHz":2744,"dB":-11.1},{"layer":"4 layer","MHz":2775,"dB":-10.9},{"layer":"4 layer","MHz":2806,"dB":-10.2},{"layer":"4 layer","MHz":2837,"dB":-10.7},{"layer":"4 layer","MHz":2869,"dB":-11.3},{"layer":"4 layer","MHz":2900,"dB":-11.6},{"layer":"4 layer","MHz":2931,"dB":-12},{"layer":"4 layer","MHz":2962,"dB":-12.5},{"layer":"4 layer","MHz":2994,"dB":-13.1}
]
},
"hconcat": [
{
  "width": 481, "height": 287,
  "title": {"text": "(a)", "orient": "bottom", "anchor": "middle", "frame": "group", "dx": -28, "offset": 26},
  "layer": [
    {"data": {"name": "a"}, "mark": "line",
     "encoding": {
       "x": {"field": "MHz", "type": "quantitative", "scale": {"domain": [0.3, 3000], "nice": false, "zero": false},
             "axis": {"values": [0.3, 750, 1500, 2250, 3000], "labelExpr": "replace(format(datum.value*1000000, '.2e'), 'e+', 'E+0')", "grid": false, "labelPadding": 25, "labelFlush": false, "title": "Frequency (Hz)", "titlePadding": 22, "titleX": 233.5}},
       "y": {"field": "dB", "type": "quantitative", "scale": {"domain": [-50, 0], "nice": false, "zero": false},
             "axis": {"values": [-50, -45, -40, -35, -30, -25, -20, -15, -10, -5, 0], "tickCount": 11, "labelExpr": "datum.value + ''", "grid": true, "labelPadding": 17, "title": "EMSE (dB)", "titleFontSize": 20, "titlePadding": 3, "titleY": 159}},
       "color": {"field": "layer", "type": "nominal",
                 "scale": {"domain": ["1 layer", "2 layer", "3 layer", "4 layer"], "range": ["#4A7EBB", "#BE4B48", "#98B954", "#7D60A0"]},
                 "legend": {"title": null, "orient": "none", "direction": "horizontal", "legendX": -40, "legendY": -45, "columnPadding": 34}}
     }},
    {"data": {"values": [{}]}, "mark": {"type": "rect", "filled": false, "stroke": "#8c8c8c", "strokeWidth": 2},
     "encoding": {
       "x": {"datum": -536, "axis": {"values": [0.3, 750, 1500, 2250, 3000], "labelExpr": "replace(format(datum.value*1000000, '.2e'), 'e+', 'E+0')", "grid": false, "labelPadding": 25, "labelFlush": false, "title": "Frequency (Hz)", "titlePadding": 22, "titleX": 233.5}},
       "x2": {"datum": 3280.6},
       "y": {"datum": 11.79, "axis": {"values": [-50, -45, -40, -35, -30, -25, -20, -15, -10, -5, 0], "tickCount": 11, "labelExpr": "datum.value + ''", "grid": true, "labelPadding": 17, "title": "EMSE (dB)", "titleFontSize": 20, "titlePadding": 3, "titleY": 159}},
       "y2": {"datum": -66.27}}}
  ]
},
{
  "width": 480, "height": 308,
  "title": {"text": "(b)", "orient": "bottom", "anchor": "middle", "frame": "group", "dx": -31, "offset": 23},
  "layer": [
    {"data": {"name": "b"}, "mark": "line",
     "encoding": {
       "x": {"field": "MHz", "type": "quantitative", "scale": {"domain": [0.3, 3000], "nice": false, "zero": false},
             "axis": {"values": [0.3, 750, 1500, 2250, 3000], "labelExpr": "replace(format(datum.value*1000000, '.2e'), 'e+', 'E+0')", "grid": false, "labelPadding": 24, "labelFlush": false, "title": "Frequency (Hz)", "titlePadding": 7, "titleX": 236}},
       "y": {"field": "dB", "type": "quantitative", "scale": {"domain": [-40, 1.204], "nice": false, "zero": false},
             "axis": {"values": [-40, -35, -30, -25, -20, -15, -10, -5, 0], "tickCount": 9, "labelExpr": "datum.value + ''", "grid": true, "domain": false, "labelPadding": 19, "title": "EMSE (dB)", "titleFontSize": 20, "titlePadding": 14, "titleY": 157}},
       "color": {"field": "layer", "type": "nominal",
                 "scale": {"domain": ["1 layer", "2 layer", "3 layer", "4 layer"], "range": ["#4A7EBB", "#BE4B48", "#98B954", "#7D60A0"]},
                 "legend": {"title": null, "orient": "none", "direction": "horizontal", "legendX": 19, "legendY": -46, "columnPadding": 15}}
     }},
    {"data": {"values": [{}]}, "mark": {"type": "rule", "color": "#9a9a9a", "strokeWidth": 1.3},
     "encoding": {
       "x": {"datum": 0.3, "axis": {"values": [0.3, 750, 1500, 2250, 3000], "labelExpr": "replace(format(datum.value*1000000, '.2e'), 'e+', 'E+0')", "grid": false, "labelPadding": 24, "labelFlush": false, "title": "Frequency (Hz)", "titlePadding": 7, "titleX": 236}},
       "y": {"datum": -40, "axis": {"values": [-40, -35, -30, -25, -20, -15, -10, -5, 0], "tickCount": 9, "labelExpr": "datum.value + ''", "grid": true, "domain": false, "labelPadding": 19, "title": "EMSE (dB)", "titleFontSize": 20, "titlePadding": 14, "titleY": 157}},
       "y2": {"datum": 0}}},
    {"data": {"values": [{}]}, "mark": {"type": "rect", "filled": false, "stroke": "#8c8c8c", "strokeWidth": 2},
     "encoding": {
       "x": {"datum": -562.1, "axis": {"values": [0.3, 750, 1500, 2250, 3000], "labelExpr": "replace(format(datum.value*1000000, '.2e'), 'e+', 'E+0')", "grid": false, "labelPadding": 24, "labelFlush": false, "title": "Frequency (Hz)", "titlePadding": 7, "titleX": 236}},
       "x2": {"datum": 3166},
       "y": {"datum": 10.26, "axis": {"values": [-40, -35, -30, -25, -20, -15, -10, -5, 0], "tickCount": 9, "labelExpr": "datum.value + ''", "grid": true, "domain": false, "labelPadding": 19, "title": "EMSE (dB)", "titleFontSize": 20, "titlePadding": 14, "titleY": 157}},
       "y2": {"datum": -49.73}}}
  ]
}
]
}
